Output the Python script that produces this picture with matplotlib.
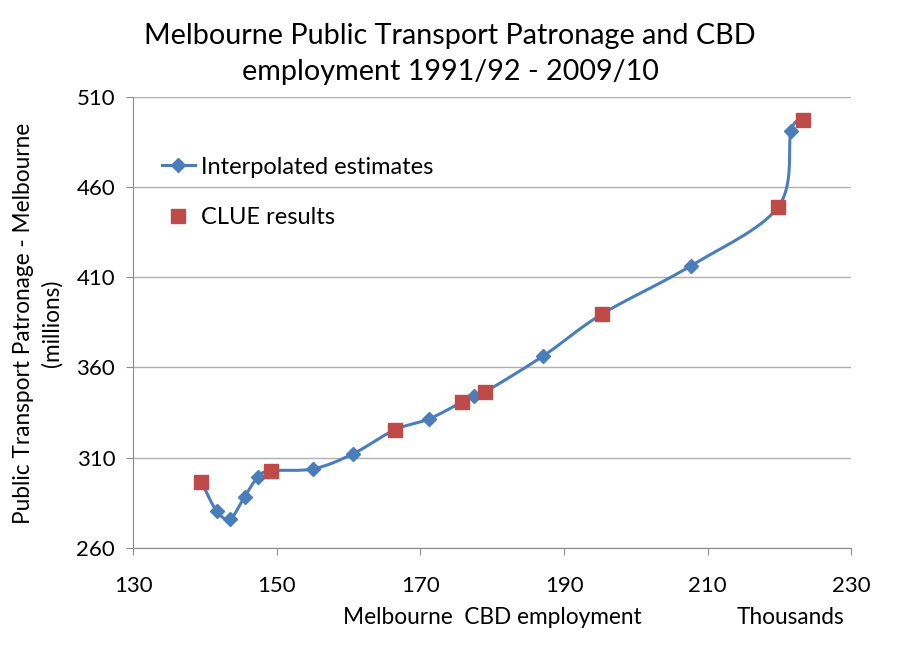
import numpy as np
import matplotlib
matplotlib.use("Agg")
import matplotlib.pyplot as plt

# CBD employment (thousands) and patronage (millions), 1991/92 - 2009/10
employment = [139.5, 141.6, 143.5, 145.5, 147.4, 149.2, 155.1, 160.6, 166.4, 171.2,
              175.8, 177.4, 179.0, 187.1, 195.3, 207.6, 219.8, 221.6, 223.2]
patronage = [296.6, 280.5, 276.1, 288.3, 299.4, 302.7, 303.8, 312.1, 325.4, 331.5,
             340.9, 344.3, 346.5, 366.4, 389.7, 416.3, 449.0, 491.2, 497.3]
# which years are CLUE survey results
clue = [True, False, False, False, False, True, False, False, True, False,
        True, False, True, False, True, False, True, False, True]

BLUE = "#4A7EBB"
RED = "#BE4B48"
plt.rcParams['font.family'] = ['Lato', 'DejaVu Sans']


def smooth(x, y, xr, yr, n=30):
    # excel style smoothed line (bezier through points, tension 1/6)
    px = (np.asarray(x) - xr[0]) / (xr[1] - xr[0]) * 718
    py = (np.asarray(y) - yr[0]) / (yr[1] - yr[0]) * 451
    P = np.column_stack([px, py])
    out = [P[0]]
    t = np.linspace(0, 1, n)[1:, None]
    for i in range(len(P) - 1):
        p0 = P[max(i - 1, 0)]
        p1, p2 = P[i], P[i + 1]
        p3 = P[min(i + 2, len(P) - 1)]
        c1 = p1 + (p2 - p0) / 6
        c2 = p2 - (p3 - p1) / 6
        seg = ((1 - t) ** 3 * p1 + 3 * (1 - t) ** 2 * t * c1
               + 3 * (1 - t) * t ** 2 * c2 + t ** 3 * p2)
        out.extend(seg)
    out = np.array(out)
    sx = out[:, 0] / 718 * (xr[1] - xr[0]) + xr[0]
    sy = out[:, 1] / 451 * (yr[1] - yr[0]) + yr[0]
    return sx, sy


fig = plt.figure(figsize=(9, 6.6), dpi=100)
ax = fig.add_axes([0.148, 0.17, 0.798, 0.683])
xr, yr = (130, 230), (260, 510)

sx, sy = smooth(employment, patronage, xr, yr)
ax.plot(sx, sy, color=BLUE, lw=2.2, zorder=2)
ax.plot(employment, patronage, ls='none', marker='D', ms=7, color=BLUE, zorder=3)
ax.plot([], [], color=BLUE, lw=2.2, marker='D', ms=7, label='Interpolated estimates')

cx = [e for e, c in zip(employment, clue) if c]
cy = [p for p, c in zip(patronage, clue) if c]
ax.plot(cx, cy, ls='none', marker='s', ms=9.5, color=RED, zorder=4, label='CLUE results')

ax.set_xlim(*xr)
ax.set_ylim(*yr)
ax.set_xticks(np.arange(130, 231, 20))
ax.set_yticks(np.arange(260, 511, 50))
ax.grid(axis='y', color='#B0B0B0', lw=1)
ax.set_axisbelow(True)
for s in ['top', 'right']:
    ax.spines[s].set_visible(False)
for s in ['left', 'bottom']:
    ax.spines[s].set_color('#8C8C8C')
ax.tick_params(axis='both', colors='#8C8C8C', labelcolor='black', labelsize=16, length=5)
ax.tick_params(axis='x', pad=15)
ax.tick_params(axis='y', pad=8)

ax.legend(loc='upper left', bbox_to_anchor=(0.01, 0.915), frameon=False, fontsize=17,
          handlelength=1.4, handletextpad=0.25, labelspacing=1.25)

fig.text(0.5, 0.918, 'Melbourne Public Transport Patronage and CBD\nemployment 1991/92 - 2009/10',
         ha='center', va='center', fontsize=20.7, linespacing=1.5)
fig.text(0.547, 0.065, 'Melbourne  CBD employment', ha='center', va='center', fontsize=16.3)
fig.text(0.878, 0.065, 'Thousands', ha='center', va='center', fontsize=16.3)
fig.text(0.042, 0.51, 'Public Transport Patronage - Melbourne\n(millions)', ha='center', va='center',
         rotation=90, fontsize=16.3, linespacing=1.45)

fig.savefig('out.png', dpi=100, facecolor='white')
